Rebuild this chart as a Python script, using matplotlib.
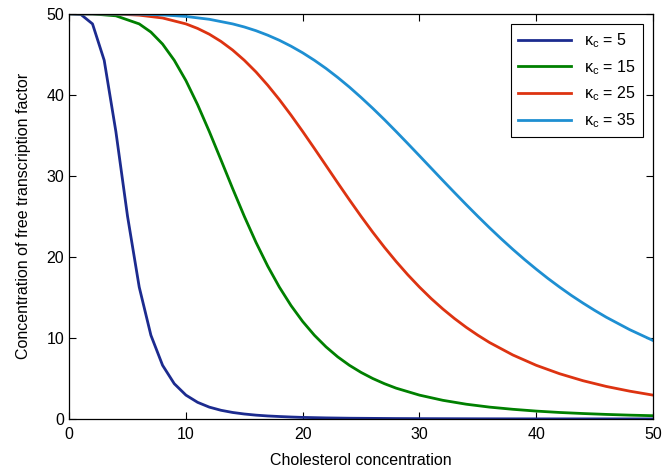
import matplotlib
matplotlib.use("Agg")
import matplotlib.pyplot as plt

# free transcription factor vs cholesterol
x_k5 = [0, 1, 2, 3, 4, 5, 6, 7, 8, 9, 10, 11, 12, 13, 14, 15, 16, 17, 18, 19,
        20, 22, 24, 26, 28, 30, 35, 40, 45, 50]
y_k5 = [50, 49.92, 48.75, 44.26, 35.47, 25.0, 16.27, 10.33, 6.62, 4.35, 2.94,
        2.05, 1.46, 1.07, 0.80, 0.61, 0.47, 0.37, 0.30, 0.24, 0.19, 0.13, 0.09,
        0.07, 0.05, 0.04, 0.02, 0.01, 0.008, 0.005]

x_k15 = [0, 2, 4, 6, 7, 8, 9, 10, 11, 12, 13, 14, 15, 16, 17, 18, 19, 20, 21,
         22, 23, 24, 25, 26, 27, 28, 30, 32, 34, 36, 38, 40, 42, 44, 46, 48, 50]
y_k15 = [50, 49.98, 49.75, 48.75, 47.74, 46.26, 44.26, 41.75, 38.78, 35.47,
         31.97, 28.43, 25.0, 21.79, 18.87, 16.27, 13.99, 12.02, 10.33, 8.89,
         7.66, 6.62, 5.74, 4.99, 4.35, 3.80, 2.94, 2.30, 1.82, 1.46, 1.19, 0.97,
         0.80, 0.67, 0.56, 0.47, 0.40]

x_k25 = [0, 4, 6, 8, 10, 11, 12, 13, 14, 15, 16, 17, 18, 19, 20, 21, 22, 23,
         24, 25, 26, 27, 28, 29, 30, 31, 32, 33, 34, 35, 36, 38, 40, 42, 44, 46,
         48, 50]
y_k25 = [50, 49.97, 49.83, 49.48, 48.75, 48.19, 47.48, 46.59, 45.52, 44.26,
         42.82, 41.19, 39.41, 37.49, 35.47, 33.38, 31.26, 29.13, 27.04, 25.0,
         23.04, 21.18, 19.43, 17.79, 16.27, 14.86, 13.57, 12.39, 11.31, 10.33,
         9.43, 7.89, 6.62, 5.58, 4.72, 4.01, 3.43, 2.94]

x_k35 = [0, 6, 8, 10, 12, 14, 15, 16, 17, 18, 19, 20, 21, 22, 23, 24, 25, 26,
         27, 28, 29, 30, 31, 32, 33, 34, 35, 36, 37, 38, 39, 40, 41, 42, 43, 44,
         45, 46, 48, 50]
y_k35 = [50, 49.96, 49.86, 49.67, 49.32, 48.75, 48.37, 47.91, 47.36, 46.73,
         46.00, 45.18, 44.26, 43.25, 42.14, 40.95, 39.67, 38.33, 36.93, 35.47,
         33.98, 32.47, 30.95, 29.43, 27.93, 26.45, 25.0, 23.59, 22.23, 20.92,
         19.67, 18.48, 17.34, 16.27, 15.25, 14.30, 13.40, 12.55, 11.02, 9.68]

labels = [r"$\mathregular{\kappa_c}$ = 5", r"$\mathregular{\kappa_c}$ = 15",
          r"$\mathregular{\kappa_c}$ = 25", r"$\mathregular{\kappa_c}$ = 35"]
colors = ["#1c2b8f", "#008000", "#dd3311", "#1e8fd2"]

plt.rcParams["font.family"] = ["Liberation Sans", "DejaVu Sans"]
plt.rcParams["mathtext.fontset"] = "custom"
plt.rcParams["mathtext.rm"] = "Liberation Sans"

fig = plt.figure(figsize=(6.65, 4.75), dpi=100)
ax = fig.add_axes([0.104, 0.118, 0.878, 0.853])

series = [(x_k5, y_k5), (x_k15, y_k15), (x_k25, y_k25), (x_k35, y_k35)]
for (xs, ys), lab, col in zip(series, labels, colors):
    ax.plot(xs, ys, color=col, lw=2.0, label=lab)

ax.set_xlim(0, 50)
ax.set_ylim(0, 50)
ax.set_xticks([0, 10, 20, 30, 40, 50])
ax.set_yticks([0, 10, 20, 30, 40, 50])
ax.tick_params(direction="in", top=True, right=True, length=5, width=0.8,
               labelsize=11.5)
ax.tick_params(axis="x", pad=6)
for sp in ax.spines.values():
    sp.set_linewidth(0.9)

ax.set_xlabel("Cholesterol concentration", fontsize=11.5, labelpad=8)
ax.set_ylabel("Concentration of free transcription factor", fontsize=11.5, labelpad=11)

leg = ax.legend(loc="upper right", fontsize=11.5, frameon=True, fancybox=False,
                edgecolor="black", framealpha=1, borderaxespad=0.65,
                handlelength=3.3, labelspacing=0.5, borderpad=0.45)
leg.get_frame().set_linewidth(0.8)

fig.savefig("out.png", dpi=100)
